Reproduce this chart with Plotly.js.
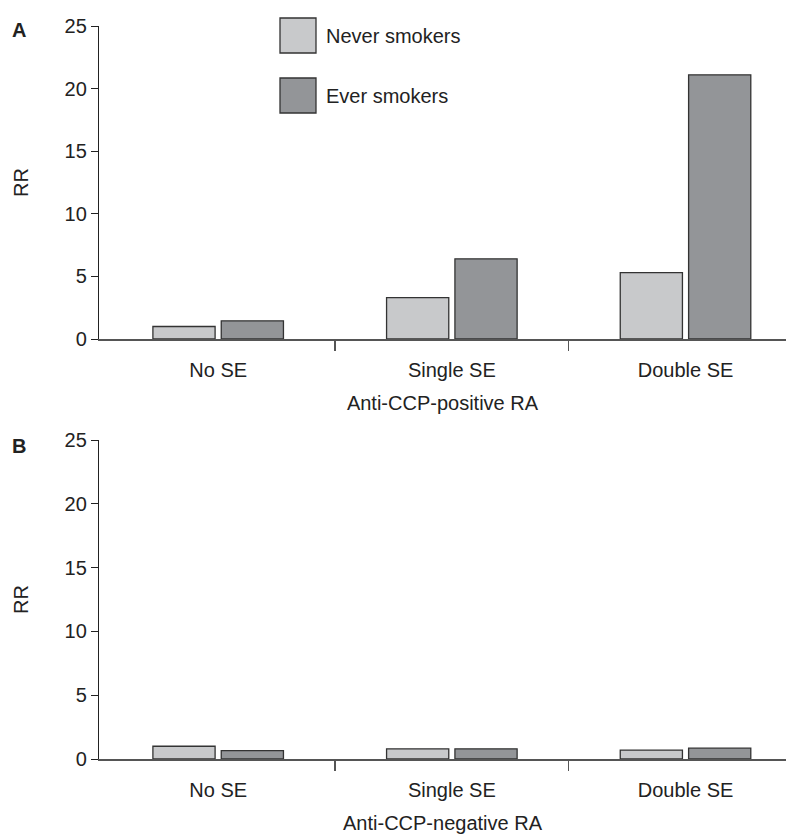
<!DOCTYPE html>
<html>
<head>
<meta charset="utf-8">
<script src="https://cdn.plot.ly/plotly-3.0.1.min.js"></script>
<style>html,body{margin:0;padding:0;background:#fff;}#chart{width:786px;height:836px;}</style>
</head>
<body>
<div id="chart"></div>
<script>
var categories = ["No SE", "Single SE", "Double SE"];
var neverPositive = [1.0, 3.3, 5.3];
var everPositive = [1.45, 6.4, 21.1];
var neverNegative = [1.0, 0.8, 0.7];
var everNegative = [0.65, 0.8, 0.85];
var seriesNames = ["Never smokers", "Ever smokers"];
var panelTitles = ["Anti-CCP-positive RA", "Anti-CCP-negative RA"];
var yTicks = [0, 5, 10, 15, 20, 25];

var W = 786, H = 836;
var cNever = "#c8c9cb", cEver = "#939598", cLine = "#333333";
var font = {family: "Liberation Sans, Arial, Helvetica, sans-serif", size: 20, color: "#222"};
var catIdx = categories.map(function (c, i) { return i; });
var boundaries = catIdx.slice(1).map(function (i) { return i - 0.5; });

function bar(y, name, color, xa, ya) {
  return {type: "bar", x: catIdx, y: y, name: name, xaxis: xa, yaxis: ya,
    marker: {color: color, line: {color: cLine, width: 1.3}}, showlegend: false};
}
var data = [
  bar(neverPositive, seriesNames[0], cNever, "x", "y"),
  bar(everPositive, seriesNames[1], cEver, "x", "y"),
  bar(neverNegative, seriesNames[0], cNever, "x2", "y2"),
  bar(everNegative, seriesNames[1], cEver, "x2", "y2")
];

function px2y(p) { return 1 - p / H; }
function px2x(p) { return p / W; }

function xaxis(anchor, title) {
  return {domain: [px2x(99), 1], anchor: anchor, type: "linear", range: [-0.51, 2.43],
    tickmode: "array", tickvals: catIdx, ticktext: categories, ticks: "",
    minor: {tickmode: "array", tickvals: boundaries, ticks: "outside", ticklen: 10, tickcolor: "#555", tickwidth: 1.2, showgrid: false},
    showline: true, linecolor: "#555", linewidth: 1.5, showgrid: false, zeroline: false,
    tickfont: font, automargin: false, ticklabelstandoff: 12,
    title: {text: title, font: font, standoff: 16}};
}
function yaxis(anchor, dom) {
  return {domain: dom, anchor: anchor, range: [0, 25], tickvals: yTicks,
    showline: true, linecolor: "#222", linewidth: 1.2, ticks: "outside", ticklen: 7,
    tickcolor: "#222", showgrid: false, zeroline: false, tickfont: font, automargin: false,
    title: {text: "RR", font: font, standoff: 30}};
}

var legendShapes = [
  {type: "rect", xref: "paper", yref: "paper", x0: px2x(280), x1: px2x(316), y0: px2y(53), y1: px2y(18),
    fillcolor: cNever, line: {color: cLine, width: 1.3}},
  {type: "rect", xref: "paper", yref: "paper", x0: px2x(280), x1: px2x(316), y0: px2y(113), y1: px2y(78),
    fillcolor: cEver, line: {color: cLine, width: 1.3}}
];
var annotations = [
  {text: seriesNames[0], xref: "paper", yref: "paper", x: px2x(324), y: px2y(36), xanchor: "left", yanchor: "middle", showarrow: false, font: font},
  {text: seriesNames[1], xref: "paper", yref: "paper", x: px2x(324), y: px2y(96), xanchor: "left", yanchor: "middle", showarrow: false, font: font},
  {text: "<b>A</b>", xref: "paper", yref: "paper", x: px2x(10), y: px2y(30), xanchor: "left", yanchor: "middle", showarrow: false, font: font},
  {text: "<b>B</b>", xref: "paper", yref: "paper", x: px2x(10), y: px2y(446), xanchor: "left", yanchor: "middle", showarrow: false, font: font}
];

var layout = {
  width: W, height: H, margin: {l: 0, r: 0, t: 0, b: 0},
  paper_bgcolor: "#fff", plot_bgcolor: "#fff", font: font,
  barmode: "group", bargap: 0.415, bargroupgap: 0.09,
  xaxis: xaxis("y", panelTitles[0]),
  yaxis: yaxis("x", [px2y(339), px2y(26)]),
  xaxis2: xaxis("y2", panelTitles[1]),
  yaxis2: yaxis("x2", [px2y(759), px2y(440)]),
  shapes: legendShapes,
  annotations: annotations,
  showlegend: false
};
Plotly.newPlot("chart", data, layout, {displayModeBar: false, staticPlot: true});
</script>
</body>
</html>
